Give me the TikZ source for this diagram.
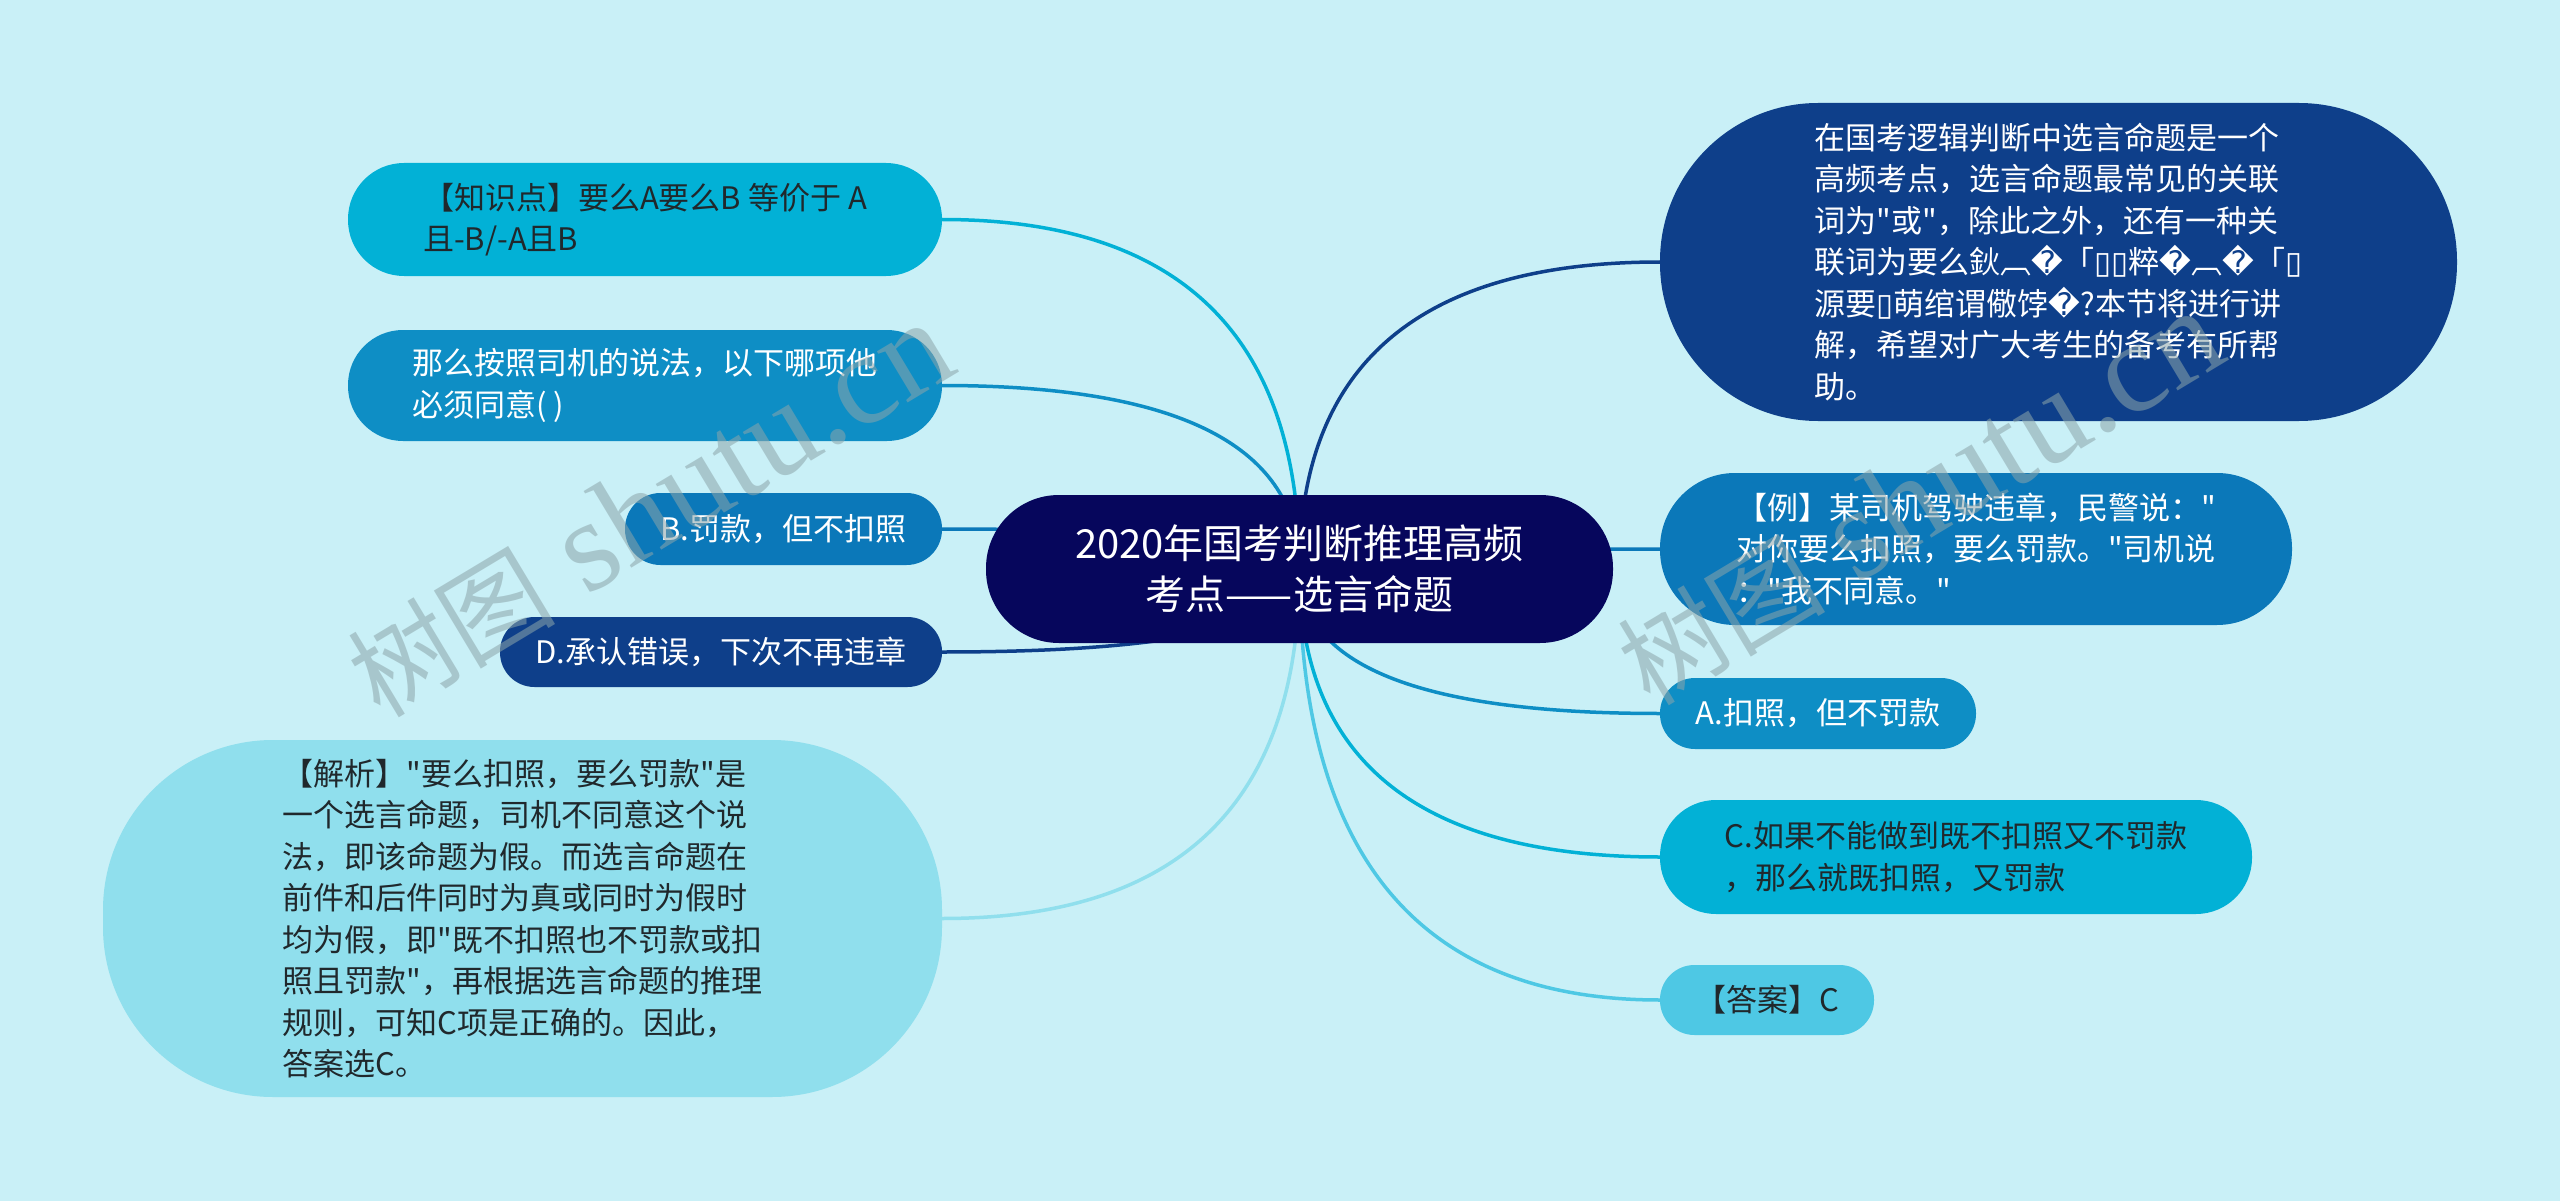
\documentclass[tikz,border=0pt]{standalone}
\usepackage{fontspec}
\setmainfont{Noto Sans CJK SC}[Ligatures=TeXOff]
\newfontfamily\djv{DejaVu Sans}
\newfontfamily\wmserif{Liberation Serif}[Ligatures=TeXOff]
\newfontfamily\cjk{Noto Sans CJK SC}[Ligatures=TeXOff]
\usetikzlibrary{calc}
\pgfdeclarelayer{bg}
\pgfsetlayers{bg,main}
\definecolor{bgc}{RGB}{201,240,247}
\definecolor{cnavy}{RGB}{6,6,92}
\definecolor{cdark}{RGB}{14,63,138}
\definecolor{cmid}{RGB}{11,120,185}
\definecolor{cmidb}{RGB}{14,142,197}
\definecolor{ccyan}{RGB}{2,177,214}
\definecolor{clight}{RGB}{78,200,228}
\definecolor{cpale}{RGB}{144,223,237}
\definecolor{tdark}{RGB}{32,40,44}
\definecolor{wmc}{RGB}{140,165,170}
\newcommand\rpl{{\djv\char"FFFD}}
\newcommand\tofu{{\djv\char"25AF}}
\newcommand\mmlink[2]{\draw[lk,#1] (c.center) .. controls ($(c.center)!0.6667!(c.center|-#2)$) and ($(#2)!0.6667!(c.center|-#2)$) .. (#2);}
\tikzset{
  mm/.style={rectangle, inner sep=0pt, align=left, font=\fontsize{31}{41.5}\selectfont},
  lk/.style={line width=3.5pt, line cap=round},
  wm/.style={rotate=31, anchor=base west, text=wmc, opacity=0.55, inner sep=0pt},
}
\begin{document}
\begin{tikzpicture}[x=1pt,y=-1pt]
\useasboundingbox (0,0) rectangle (2560,1201);

% central
\node[rectangle, inner sep=0pt, align=center, fill=cnavy, text=white,
  minimum width=627pt, minimum height=148pt, rounded corners=73pt,
  font=\fontsize{40}{51}\selectfont] (c) at (1299.5,569)
  {2020年国考判断推理高频\\考点——选言命题};

% right side
\node[mm, fill=cdark, text=white, minimum width=797pt, minimum height=318pt, rounded corners=158pt] (tr) at (2058.5,262)
  {在国考逻辑判断中选言命题是一个\\高频考点，选言命题最常见的关联\\词为"或"，除此之外，还有一种关\\联词为要么鈥︹\rpl「\tofu\tofu 粹\rpl︹\rpl「\tofu\\源要\tofu 萌绾谓儆饽\rpl?本节将进行讲\\解，希望对广大考生的备考有所帮\\助。};
\node[mm, fill=cmid, text=white, minimum width=632pt, minimum height=152pt, rounded corners=75pt] (ex) at (1976,549)
  {【例】某司机驾驶违章，民警说："\\对你要么扣照，要么罚款。"司机说\\："我不同意。"};
\node[mm, fill=cmidb, text=white, minimum width=316pt, minimum height=71pt, rounded corners=35pt] (a) at (1818,713.5)
  {A.扣照，但不罚款};
\node[mm, fill=ccyan, text=tdark, minimum width=592pt, minimum height=114pt, rounded corners=56pt] (cc) at (1956,857)
  {C.如果不能做到既不扣照又不罚款\\，那么就既扣照，又罚款};
\node[mm, fill=clight, text=tdark, minimum width=214pt, minimum height=70pt, rounded corners=34.5pt] (ans) at (1767,1000)
  {【答案】C};

% left side
\node[mm, fill=ccyan, text=tdark, minimum width=594pt, minimum height=113pt, rounded corners=56pt] (k) at (645,219.5)
  {【知识点】要么A要么B 等价于 A\\且-B/-A且B};
\node[mm, fill=cmidb, text=white, minimum width=594pt, minimum height=111pt, rounded corners=55pt] (q) at (645,385.5)
  {那么按照司机的说法，以下哪项他\\必须同意( )};
\node[mm, fill=cmid, text=white, minimum width=317pt, minimum height=72pt, rounded corners=35.5pt] (b) at (783.5,529)
  {B.罚款，但不扣照};
\node[mm, fill=cdark, text=white, minimum width=442pt, minimum height=70pt, rounded corners=34.5pt] (d) at (721,652)
  {D.承认错误，下次不再违章};
\node[mm, fill=cpale, text=tdark, minimum width=839pt, minimum height=357pt, rounded corners=170pt] (j) at (522.5,918.5)
  {【解析】"要么扣照，要么罚款"是\\一个选言命题，司机不同意这个说\\法，即该命题为假。而选言命题在\\前件和后件同时为真或同时为假时\\均为假，即"既不扣照也不罚款或扣\\照且罚款"，再根据选言命题的推理\\规则，可知C项是正确的。因此，\\答案选C。};

\begin{pgfonlayer}{bg}
  \fill[bgc] (0,0) rectangle (2560,1201);
  \mmlink{cdark}{tr.west}
  \mmlink{cmid}{ex.west}
  \mmlink{cmidb}{a.west}
  \mmlink{ccyan}{cc.west}
  \mmlink{clight}{ans.west}
  \mmlink{ccyan}{k.east}
  \mmlink{cmidb}{q.east}
  \mmlink{cmid}{b.east}
  \mmlink{cdark}{d.east}
  \mmlink{cpale}{j.east}
\end{pgfonlayer}

% watermarks
\node[wm] (wm1) at (380,720) {{\cjk\fontsize{104}{104}\selectfont 树图}{\wmserif\fontsize{130}{130}\selectfont\ shutu.cn}};
\node[wm] (wm2) at (1650,708) {{\cjk\fontsize{104}{104}\selectfont 树图}{\wmserif\fontsize{130}{130}\selectfont\ shutu.cn}};
\end{tikzpicture}
\end{document}
